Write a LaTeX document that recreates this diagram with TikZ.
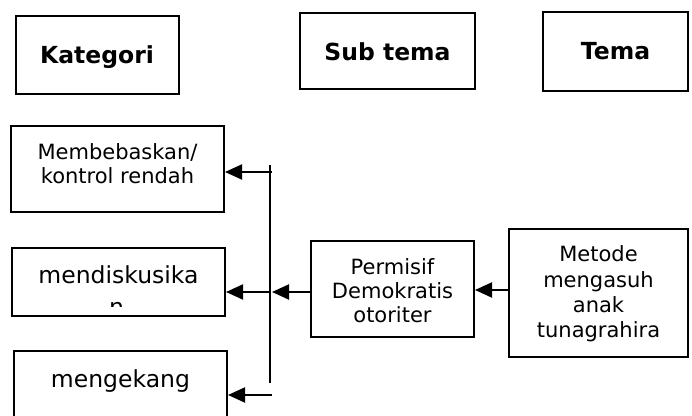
\documentclass[tikz,border=0pt]{standalone}
\usepackage{fontspec}
\setmainfont{DejaVu Sans}
\usetikzlibrary{arrows.meta,positioning}
\tikzstyle{kotak}=[draw,line width=1pt,inner sep=0pt,anchor=base]
\tikzstyle{judul}=[kotak,font=\bfseries\fontsize{11.75}{14}\selectfont]
\tikzstyle{besar}=[kotak,font=\fontsize{11.75}{14}\selectfont]
\tikzstyle{kecil}=[kotak,font=\fontsize{10.5}{12}\selectfont]
\tikzstyle{line}=[line width=1pt]
\tikzstyle{arrow}=[->,line]
\tikzset{>={Triangle[length=8.5pt,width=7.5pt]}}

\begin{document}
\begin{tikzpicture}[x=0.5pt,y=-0.5pt]

    \useasboundingbox (0,0) rectangle (692,416);

    % judul kolom
    \node[judul, minimum width=81.5pt, text height=24pt, text depth=15pt] (kategori) at (97,64) {Kategori};
    \node[judul, minimum width=87.5pt, text height=24pt, text depth=14pt] (subtema) at (387.5,61) {Sub tema};
    \node[judul, minimum width=72.5pt, text height=23.75pt, text depth=15.5pt] (tema) at (615.5,60) {Tema};

    % kategori
    \node[kecil, minimum width=106.5pt, text height=17pt, text depth=26pt] (membebaskan) at (117.5,160) {\begin{tabular}[t]{@{}c@{}}Membebaskan/\\ kontrol rendah\end{tabular}};
    \node[besar, minimum width=106.5pt, text height=18pt, text depth=16pt] (mendiskusikan) at (118.5,284) {mendiskusika};
    \node[besar, minimum width=106.5pt, text height=18.5pt, text depth=30pt] (mengekang) at (120.5,388) {mengekang};
    \begin{scope}
      \clip (0,302) rectangle (692,306.5);
      \node[besar, draw=none] (sisa) at (116.5,316) {n};
    \end{scope}

    % sub tema dan tema
    \node[kecil, minimum width=81.5pt, text height=17pt, text depth=31pt] (permisif) at (392.5,275) {\begin{tabular}[t]{@{}c@{}}Permisif\\ Demokratis\\ otoriter\end{tabular}};
    \node[kecil, font=\fontsize{10.5}{12.65}\selectfont, minimum width=89.5pt, text height=16.5pt, text depth=47.5pt] (metode) at (598.5,262) {\begin{tabular}[t]{@{}c@{}}Metode\\ mengasuh\\ anak\\ tunagrahira\end{tabular}};

    % garis penghubung
    \coordinate (busatas) at (270,165);
    \coordinate (busbawah) at (270,383);
    \coordinate (bustengah) at (270,292);
    \coordinate (p1) at (272,172);
    \coordinate (p2) at (272,292);
    \coordinate (p3) at (272,395);
    \coordinate (p4) at (490,290);

    \draw[line] (busatas) -- (busbawah);
    \draw[arrow] (p1) -- (membebaskan.east |- p1);
    \draw[arrow] (bustengah) -- (mendiskusikan.east |- bustengah);
    \draw[arrow] (p3) -- (mengekang.east |- p3);
    \draw[arrow] (permisif.west |- p2) -- (p2);
    \draw[arrow] (metode.west |- p4) -- (permisif.east |- p4);
  \end{tikzpicture}
\end{document}
